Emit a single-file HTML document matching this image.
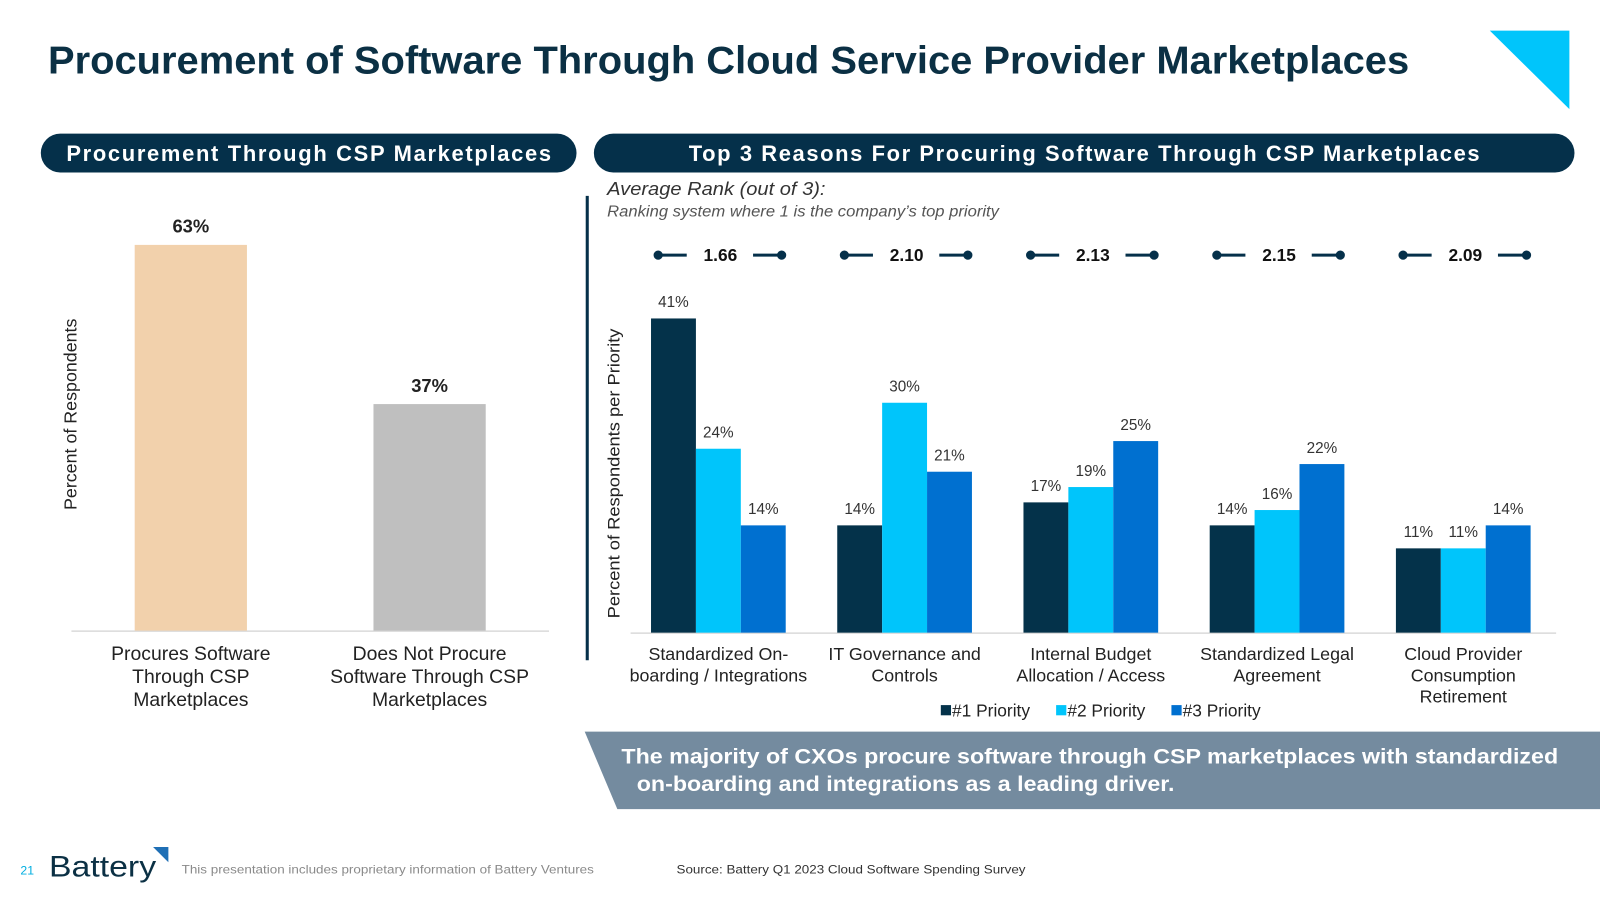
<!DOCTYPE html>
<html><head><meta charset="utf-8"><style>
html,body{margin:0;padding:0;background:#fff;width:1600px;height:900px;overflow:hidden}
svg{display:block;font-family:"Liberation Sans",Arial,sans-serif}
</style></head><body>
<svg id="s" width="1600" height="900" viewBox="0 0 1568 882" xmlns="http://www.w3.org/2000/svg">
<text x="47" y="72" font-size="38" font-weight="bold" fill="#0b3044" textLength="1334" lengthAdjust="spacingAndGlyphs">Procurement of Software Through Cloud Service Provider Marketplaces</text>
<polygon points="1460,30 1538,30 1538,107" fill="#00c5fb"/>
<rect x="40" y="131" width="525" height="38" rx="19" fill="#05304a"/>
<text x="65" y="158" font-size="21.5" font-weight="bold" fill="#fff" textLength="475" lengthAdjust="spacing">Procurement Through CSP Marketplaces</text>
<rect x="582" y="131" width="961" height="38" rx="19" fill="#05304a"/>
<text x="675" y="158" font-size="21.5" font-weight="bold" fill="#fff" textLength="775" lengthAdjust="spacing">Top 3 Reasons For Procuring Software Through CSP Marketplaces</text>
<text transform="translate(75,406) rotate(-90)" font-size="17.5" fill="#222" text-anchor="middle">Percent of Respondents</text>
<line x1="70" y1="618.5" x2="538" y2="618.5" stroke="#d9d9d9" stroke-width="1.5"/>
<g id="left"></g>
<line x1="575.5" y1="192" x2="575.5" y2="647" stroke="#05304a" stroke-width="3"/>
<text x="595" y="191" font-size="18" font-style="italic" fill="#333" textLength="214" lengthAdjust="spacingAndGlyphs">Average Rank (out of 3):</text>
<text x="595" y="212" font-size="15" font-style="italic" fill="#555" textLength="384" lengthAdjust="spacingAndGlyphs">Ranking system where 1 is the company’s top priority</text>
<text transform="translate(607,464) rotate(-90)" font-size="16" fill="#222" text-anchor="middle" textLength="284" lengthAdjust="spacingAndGlyphs">Percent of Respondents per Priority</text>
<line x1="618" y1="620.5" x2="1525" y2="620.5" stroke="#d9d9d9" stroke-width="1.5"/>
<g id="right"></g>
<g font-size="17" fill="#222">
<rect x="922" y="691" width="10" height="10" fill="#04324a"/><text x="933" y="702">#1 Priority</text>
<rect x="1035" y="691" width="10" height="10" fill="#00c5fb"/><text x="1046" y="702">#2 Priority</text>
<rect x="1148" y="691" width="10" height="10" fill="#0070d0"/><text x="1159" y="702">#3 Priority</text>
</g>
<polygon points="573,717 1568,717 1568,793 605,793" fill="#748b9f"/>
<text font-size="21" font-weight="bold" fill="#fff"><tspan x="609" y="748" textLength="918" lengthAdjust="spacingAndGlyphs">The majority of CXOs procure software through CSP marketplaces with standardized</tspan><tspan x="624" y="775" textLength="527" lengthAdjust="spacingAndGlyphs">on-boarding and integrations as a leading driver.</tspan></text>
<text x="20" y="857" font-size="12" fill="#00aee0">21</text>
<text x="48" y="859" font-size="29" fill="#0b3044" textLength="105" lengthAdjust="spacingAndGlyphs">Battery</text>
<polygon points="150,830 165,830 165,845" fill="#1f6fb5"/>
<text x="178" y="856" font-size="12" fill="#8a8a8a" textLength="404" lengthAdjust="spacingAndGlyphs">This presentation includes proprietary information of Battery Ventures</text>
<text x="663" y="856" font-size="12" fill="#333" textLength="342" lengthAdjust="spacingAndGlyphs">Source: Battery Q1 2023 Cloud Software Spending Survey</text>
</svg>
<script>
const leftCats=[["Procures Software","Through CSP","Marketplaces"],["Does Not Procure","Software Through CSP","Marketplaces"]];
const leftVals=[63,37];
const leftColors=["#f2d1ac","#bfbfbf"];
const cats=[["Standardized On-","boarding / Integrations"],["IT Governance and","Controls"],["Internal Budget","Allocation / Access"],["Standardized Legal","Agreement"],["Cloud Provider","Consumption","Retirement"]];
const p1=[41,14,17,14,11];
const p2=[24,30,19,16,11];
const p3=[14,21,25,22,14];
const avgRank=["1.66","2.10","2.13","2.15","2.09"];
const NS="http://www.w3.org/2000/svg";
function mk(tag,attrs,parent,txt){const e=document.createElementNS(NS,tag);for(const k in attrs)e.setAttribute(k,attrs[k]);if(txt!==undefined)e.textContent=txt;parent.appendChild(e);return e;}
const L=document.getElementById('left');
const ly=v=>618-v*6;
const lx=i=>187+i*234;
leftVals.forEach((v,i)=>{
 const r=mk('rect',{x:lx(i)-55,y:ly(v),width:110,height:618-ly(v),fill:leftColors[i]},L);
 
 
 const t=mk('text',{x:lx(i),y:ly(v)-12,'font-size':18,'font-weight':'bold',fill:'#222','text-anchor':'middle'},L,v+'%');
 
 
 leftCats[i].forEach((ln,j)=>{const c=mk('text',{x:lx(i),y:647+j*22.5,'font-size':19,fill:'#222','text-anchor':'middle'},L,ln);
 
 });
});
const R=document.getElementById('right');
const ry=v=>620-v*7.51;
const gx=i=>704+i*182.5;
const colors=["#04324a","#00c5fb","#0070d0"];
const series=[p1,p2,p3];
cats.forEach((c,i)=>{
 series.forEach((s,k)=>{
  const x=gx(i)-66+k*44;
  const r=mk('rect',{x:x,y:ry(s[i]),width:44,height:620-ry(s[i]),fill:colors[k]},R);
  
  
  const t=mk('text',{x:x+22,y:ry(s[i])-11,'font-size':15,fill:'#333','text-anchor':'middle'},R,s[i]+'%');
  
  
 });
 c.forEach((ln,j)=>{const t=mk('text',{x:gx(i),y:647+j*20.7,'font-size':17.5,fill:'#222','text-anchor':'middle'},R,ln);
 
 });
 const g=mk('g',{},R);
 
 
 const cx=gx(i)+2,y=250;
 mk('line',{x1:cx-61,y1:y,x2:cx-33,y2:y,stroke:'#05304a','stroke-width':3},g);
 mk('circle',{cx:cx-61,cy:y,r:4.5,fill:'#05304a'},g);
 mk('line',{x1:cx+32,y1:y,x2:cx+60,y2:y,stroke:'#05304a','stroke-width':3},g);
 mk('circle',{cx:cx+60,cy:y,r:4.5,fill:'#05304a'},g);
 mk('text',{x:cx,y:y+6,'font-size':17,'font-weight':'bold',fill:'#111','text-anchor':'middle'},g,avgRank[i]);
});
</script>
</body></html>
